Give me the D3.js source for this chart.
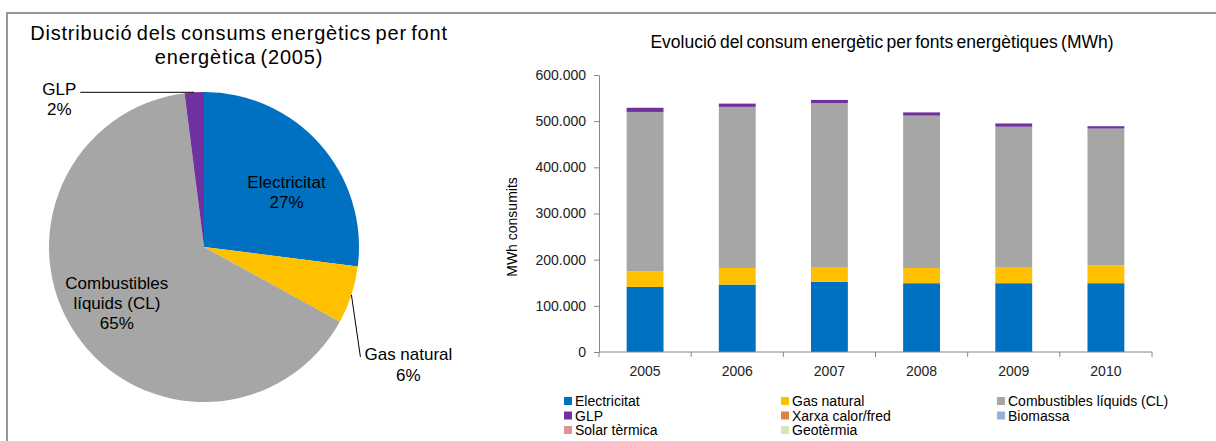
<!DOCTYPE html>
<html lang="ca">
<head>
<meta charset="UTF-8" />
<title>Consums energètics</title>
<style>
  body { margin: 0; background: #fff; }
  svg { display: block; font-family: "Liberation Sans", Arial, sans-serif; }
  .axis path, .axis line { stroke: #868686; }
  .axis text { fill: #222; font-size: 14px; font-family: "Liberation Sans", Arial, sans-serif; }
</style>
</head>
<body>
<script src="https://cdn.jsdelivr.net/npm/d3@7"></script>
<script>
// pie (2005)
var pieLabels = ["Electricitat", "Gas natural", "Combustibles líquids (CL)", "GLP"];
var piePct = [27, 6, 65, 2];

// bars
var years = ["2005", "2006", "2007", "2008", "2009", "2010"];
var sources = ["Electricitat", "Gas natural", "Combustibles líquids (CL)", "GLP",
               "Xarxa calor/fred", "Biomassa", "Solar tèrmica", "Geotèrmia"];
var colors = ["#0070C0", "#FFC000", "#A6A6A6", "#7030A0",
              "#E0823D", "#95B3D7", "#D99694", "#D7E4BD"];
var electricitat = [141000, 146000, 152000, 149000, 149000, 149000];
var gasNatural   = [ 34000,  36000,  32000,  33000,  35000,  39000];
var combustibles = [345000, 349000, 355000, 330000, 304000, 296000];
var glp          = [  9000,   7000,   7000,   7000,   7000,   5000];
var xarxa        = [0, 0, 0, 0, 0, 0];
var biomassa     = [0, 0, 0, 0, 0, 0];
var solar        = [0, 0, 0, 0, 0, 0];
var geotermia    = [0, 0, 0, 0, 0, 0];
var yTicks = [0, 100000, 200000, 300000, 400000, 500000, 600000];

var W = 1216, H = 441;
var svg = d3.select("body").append("svg").attr("width", W).attr("height", H);

// frame
svg.append("path")
  .attr("d", "M7,441 V13 H1216")
  .attr("fill", "none").attr("stroke", "#969696").attr("stroke-width", 2);

// ---------- pie ----------
var cx = 204, cy = 247, r = 155;
var title = svg.append("text").attr("text-anchor", "middle")
  .attr("font-size", 20).attr("fill", "#000")
  .attr("letter-spacing", 0.8).attr("word-spacing", -2);
title.append("tspan").attr("x", 239).attr("y", 40).text("Distribució dels consums energètics per font");
title.append("tspan").attr("x", 239).attr("y", 64).text("energètica (2005)");

var pie = d3.pie().sort(null).value(function(d) { return d; });
var arcs = pie(piePct);
var arc = d3.arc().innerRadius(0).outerRadius(r);
var g = svg.append("g").attr("transform", "translate(" + cx + "," + cy + ")");
g.selectAll("path").data(arcs).enter().append("path")
  .attr("d", arc)
  .attr("fill", function(d, i) { return colors[i]; });

function polar(a, rr) { return [Math.sin(a) * rr, -Math.cos(a) * rr]; }
function mid(d) { return (d.startAngle + d.endAngle) / 2; }

// inside labels: [slice, radius factor, dx, dy]
[[0, 0.65, 7, 12], [2, 0.68, 0, -3]].forEach(function(p) {
  var d = arcs[p[0]], pos = polar(mid(d), r * p[1]);
  var lines = p[0] === 2 ? ["Combustibles", "líquids (CL)"] : [pieLabels[p[0]]];
  lines.push(piePct[p[0]] + "%");
  var t = g.append("text").attr("text-anchor", "middle").attr("font-size", 17).attr("fill", "#000");
  var y0 = pos[1] + p[3] - (lines.length - 1) * 10 + 6;
  lines.forEach(function(l, k) {
    t.append("tspan").attr("x", pos[0] + p[2]).attr("y", y0 + k * 20).text(l);
  });
});

// outside labels with leader lines
var gl = polar(mid(arcs[3]), r);
g.append("line").attr("x1", gl[0]).attr("y1", gl[1]).attr("x2", gl[0] - 114).attr("y2", gl[1])
  .attr("stroke", "#000").attr("stroke-width", 1);
var tg = g.append("text").attr("text-anchor", "middle").attr("font-size", 17);
tg.append("tspan").attr("x", gl[0] - 135).attr("y", gl[1] + 3).text("GLP");
tg.append("tspan").attr("x", gl[0] - 135).attr("y", gl[1] + 23).text(piePct[3] + "%");

var gs = polar(mid(arcs[1]), r);
g.append("line").attr("x1", gs[0]).attr("y1", gs[1]).attr("x2", gs[0] + 9).attr("y2", gs[1] + 62)
  .attr("stroke", "#000").attr("stroke-width", 1);
var tn = g.append("text").attr("text-anchor", "middle").attr("font-size", 17);
tn.append("tspan").attr("x", gs[0] + 57).attr("y", gs[1] + 65).text("Gas natural");
tn.append("tspan").attr("x", gs[0] + 57).attr("y", gs[1] + 86).text(piePct[1] + "%");

// ---------- stacked bars ----------
svg.append("text").attr("x", 882).attr("y", 48).attr("text-anchor", "middle")
  .attr("font-size", 17.5).attr("word-spacing", -1.5).attr("fill", "#000")
  .text("Evolució del consum energètic per fonts energètiques (MWh)");

var series = [electricitat, gasNatural, combustibles, glp, xarxa, biomassa, solar, geotermia];
var rows = years.map(function(y, i) {
  var o = { year: y };
  sources.forEach(function(s, k) { o[s] = series[k][i]; });
  return o;
});
var stack = d3.stack().keys(sources)(rows);

var x = d3.scaleBand().domain(years).range([599, 1152]).paddingInner(0.6).paddingOuter(0.3);
var y = d3.scaleLinear().domain([0, 600000]).range([352, 75]);
var loc = d3.formatLocale({ decimal: ",", thousands: ".", grouping: [3], currency: ["", "€"] });

svg.append("g").selectAll("g").data(stack).enter().append("g")
  .attr("fill", function(d, i) { return colors[i]; })
  .selectAll("rect").data(function(d) { return d; }).enter().append("rect")
  .attr("x", function(d) { return x(d.data.year); })
  .attr("width", x.bandwidth())
  .attr("y", function(d) { return y(d[1]); })
  .attr("height", function(d) { return y(d[0]) - y(d[1]); });

svg.append("g").attr("class", "axis").attr("transform", "translate(599,0)")
  .call(d3.axisLeft(y).tickValues(yTicks).tickSize(5).tickSizeOuter(0).tickPadding(8)
    .tickFormat(function(v) { return v === 0 ? "0" : loc.format(",")(v); }));

var xa = svg.append("g").attr("class", "axis").attr("transform", "translate(0,352)")
  .call(d3.axisBottom(x).tickSize(0).tickSizeOuter(0).tickPadding(14));
xa.select(".domain").attr("d", "M599,0H1152");
var step = x.step();
xa.selectAll(".bound").data(d3.range(years.length + 1)).enter().append("line")
  .attr("x1", function(i) { return 599 + i * step; })
  .attr("x2", function(i) { return 599 + i * step; })
  .attr("y1", 0).attr("y2", 5).attr("stroke", "#868686");

svg.append("text").attr("transform", "translate(517,227) rotate(-90)")
  .attr("text-anchor", "middle").attr("font-size", 14).attr("fill", "#000")
  .text("MWh consumits");

// legend
var legX = [564, 781, 997], legY = [401, 415.5, 430];
var leg = svg.append("g").selectAll("g").data(sources).enter().append("g")
  .attr("transform", function(d, i) { return "translate(" + legX[i % 3] + "," + legY[Math.floor(i / 3)] + ")"; });
leg.append("rect").attr("x", 0).attr("y", -4).attr("width", 8).attr("height", 8)
  .attr("fill", function(d, i) { return colors[i]; });
leg.append("text").attr("x", 11).attr("y", 5).attr("font-size", 14).attr("fill", "#000")
  .text(function(d) { return d; });
</script>
</body>
</html>
